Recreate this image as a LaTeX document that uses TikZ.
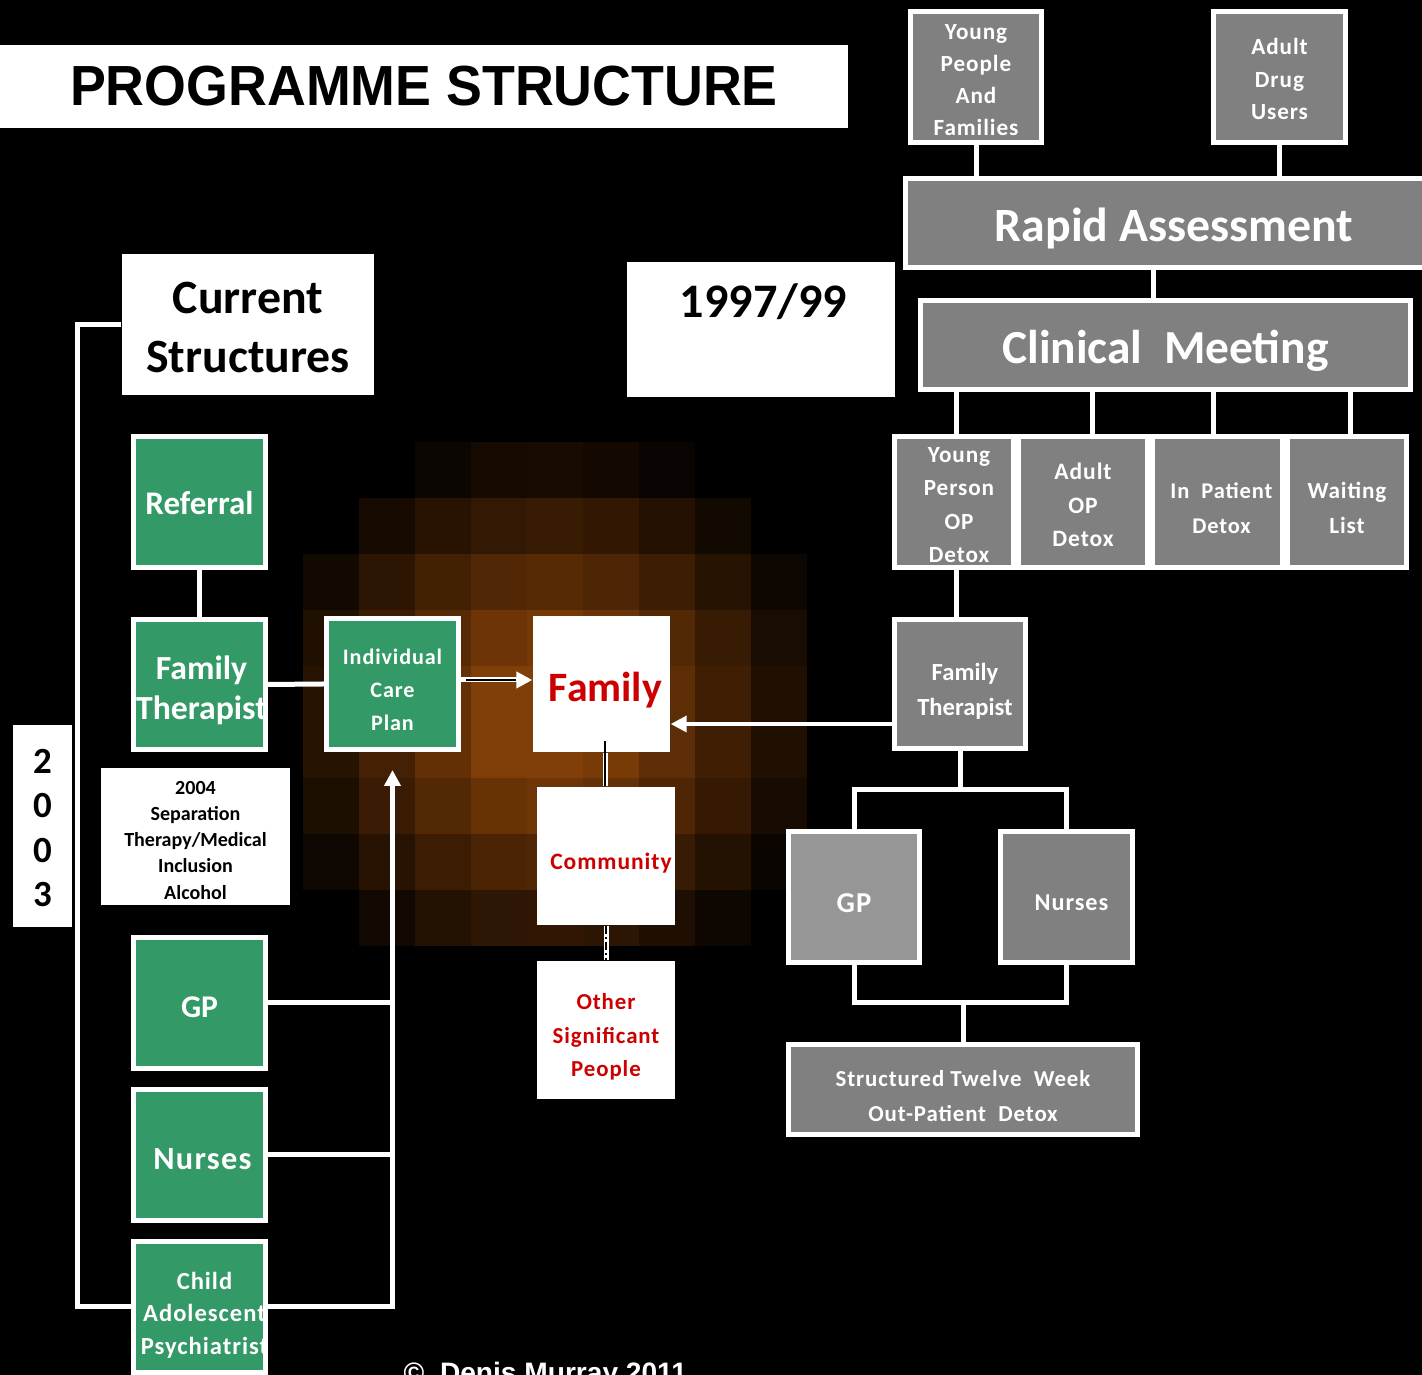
\documentclass[tikz,border=0pt]{standalone}
\usepackage{fontspec}
\setmainfont{Carlito}
\newfontfamily\titlefont[FakeStretch=0.95]{Liberation Sans}
\newfontfamily\arialfont{Liberation Sans}
\newfontfamily\spfont[LetterSpace=4]{Carlito}
\usetikzlibrary{arrows.meta,calc}
\definecolor{pgreen}{RGB}{51,153,102}
\definecolor{pgrey}{RGB}{128,128,128}
\definecolor{pgreyl}{RGB}{150,150,150}
\definecolor{pred}{RGB}{204,0,0}
\definecolor{glow}{RGB}{128,62,8}
\tikzset{
  box/.style={rectangle, draw=white, line width=0.05cm, inner sep=0pt},
  gbox/.style={box, fill=pgreen},
  greybox/.style={box, fill=pgrey},
  wbox/.style={rectangle, fill=white, inner sep=0pt},
  boxsize/.style 2 args={minimum width=#1cm, minimum height=#2cm},
  tl/.style={align=center, inner sep=0pt, text=white, yshift=-0.06cm},
  conn/.style={draw=white, line width=0.05cm},
  tipw/.style={-{Triangle[length=0.16cm,width=0.16cm]}},
  fs/.style 2 args={font=\fontsize{#1}{#2}\selectfont\bfseries},
  sfs/.style 2 args={font=\spfont\fontsize{#1}{#2}\selectfont\bfseries},
}
\begin{document}
\begin{tikzpicture}
\useasboundingbox (0,0) rectangle (14.22,-13.75);
\fill[black] (0,0) rectangle (14.22,-13.75);
% glow
\foreach \i in {0,...,8}{
  \foreach \j in {0,...,8}{
    \pgfmathsetmacro\d{sqrt((\i-3.9)^2+(\j-4.4)^2)}
    \pgfmathtruncatemacro\p{min(100,125*max(0,1-\d/5.2))}
    \fill[glow!\p!black] (3.03+0.56*\i, -4.42-0.56*\j) rectangle ++(0.56,-0.56);
  }
}

% title
\node[wbox, boxsize={8.48}{0.83}, font=\titlefont\bfseries\fontsize{16.1}{18}\selectfont] (title) at (4.24,-0.865) {PROGRAMME STRUCTURE};

% right side (1997/99)
\node[greybox, boxsize={1.31}{1.31}, label={[tl, yshift=0.03cm, sfs={6.6}{9.1}]center:{Young\\People\\And\\Families}}] (ypf) at (9.76,-0.77) {};
\node[greybox, boxsize={1.32}{1.31}, label={[tl, yshift=0.04cm, sfs={6.6}{9.3}]center:{Adult\\Drug\\Users}}] (adu) at (12.795,-0.77) {};
\node[greybox, boxsize={5.37}{0.89}, label={[tl, fs={13.6}{14}]center:{Rapid Assessment}}] (rapid) at (11.74,-2.23) {};
\node[greybox, boxsize={4.90}{0.89}, label={[tl, fs={13.5}{15}]center:{Clinical\ \ Meeting}}] (clinical) at (11.655,-3.45) {};
\node[greybox, boxsize={1.19}{1.31}, label={[tl, yshift=0.03cm, xshift=0.05cm, sfs={6.6}{9.5}]center:{Young\\Person\\OP\\Detox}}] (ypod) at (9.54,-5.02) {};
\node[greybox, boxsize={1.29}{1.31}, label={[tl, yshift=0.03cm, sfs={6.7}{9.6}]center:{Adult\\OP\\Detox}}] (aop) at (10.83,-5.02) {};
\node[greybox, boxsize={1.30}{1.31}, label={[tl, xshift=0.04cm, sfs={6.4}{10}]center:{In\ \ Patient\\Detox}}] (ipd) at (12.175,-5.02) {};
\node[greybox, boxsize={1.19}{1.31}, label={[tl, sfs={6.6}{10}]center:{Waiting\\List}}] (wl) at (13.47,-5.02) {};
\node[greybox, boxsize={1.31}{1.29}, label={[tl, yshift=-0.01cm, xshift=0.05cm, fs={7}{10}]center:{Family\\Therapist}}] (ftR) at (9.60,-6.84) {};
\node[box, fill=pgreyl, boxsize={1.31}{1.31}, label={[tl, sfs={8.2}{10}]center:{GP}}] (gpR) at (8.54,-8.97) {};
\node[greybox, boxsize={1.32}{1.31}, label={[tl, xshift=0.05cm, sfs={6.9}{10}]center:{Nurses}}] (nuR) at (10.665,-8.97) {};
\node[greybox, boxsize={3.49}{0.90}, label={[tl, yshift=-0.01cm, sfs={6.5}{10}]center:{Structured Twelve\ \ Week\\Out-Patient\ \ Detox}}] (stw) at (9.63,-10.895) {};

\node[wbox, boxsize={2.68}{1.35}] (y97) at (7.61,-3.295) {};
\node[fs={13.7}{15}, text=black, inner sep=0pt] (y97t) at ($(y97.north)+(0.025,-0.40)$) {1997/99};

% centre
\node[wbox, boxsize={1.37}{1.36}, label={[tl, xshift=0.04cm, text=pred, fs={11.9}{13}]center:{Family}}] (family) at (6.015,-6.84) {};
\node[wbox, boxsize={1.38}{1.38}, label={[tl, yshift=-0.01cm, xshift=0.05cm, text=pred, sfs={6.7}{9}]center:{Community}}] (comm) at (6.06,-8.56) {};
\node[wbox, boxsize={1.38}{1.38}, label={[tl, yshift=-0.01cm, text=pred, sfs={6.5}{9.5}]center:{Other\\Significant\\People}}] (osp) at (6.06,-10.30) {};
\node[gbox, boxsize={1.32}{1.31}, label={[tl, sfs={6.3}{9.4}]center:{Individual\\Care\\Plan}}] (icp) at (3.925,-6.84) {};

% left side
\node[wbox, boxsize={2.52}{1.41}, label={[tl, yshift=0.03cm, text=black, fs={13.6}{17}]center:{Current\\Structures}}] (cs) at (2.48,-3.245) {};
\node[wbox, boxsize={0.59}{2.02}, label={[tl, yshift=0.04cm, text=black, fs={10.5}{12.6}]center:{2\\0\\0\\3}}] (y2003) at (0.425,-8.26) {};
\node[gbox, boxsize={1.32}{1.31}, label={[tl, yshift=0.05cm, fs={9.4}{11}]center:{Referral}}] (ref) at (1.995,-5.02) {};
\node[gbox, boxsize={1.32}{1.30}, label={[tl, xshift=0.02cm, fs={9.6}{11.4}]center:{Family\\Therapist}}] (ftL) at (1.995,-6.845) {};
\node[wbox, boxsize={1.89}{1.37}, label={[tl, yshift=0.02cm, text=black, fs={5.7}{7.4}]center:{2004\\Separation\\Therapy/Medical\\Inclusion\\Alcohol}}] (note) at (1.955,-8.365) {};
\node[gbox, boxsize={1.32}{1.31}, label={[tl, yshift=0.02cm, fs={9}{11}]center:{GP}}] (gpL) at (1.995,-10.03) {};
\node[gbox, boxsize={1.32}{1.31}, label={[tl, yshift=0.02cm, xshift=0.03cm, sfs={9.2}{11}]center:{Nurses}}] (nuL) at (1.995,-11.55) {};
\node[gbox, boxsize={1.32}{1.31}, label={[tl, yshift=-0.02cm, xshift=0.05cm, sfs={7}{9.3}]center:{Child\\Adolescent\\Psychiatrist}}] (cap) at (1.995,-13.07) {};

\node[anchor=base west, text=white, inner sep=0pt, font=\arialfont\bfseries\fontsize{8}{9}\selectfont] (copy) at (4.03,-13.83) {\textcopyright\ \ Denis Murray 2011};

% connectors right
\draw[conn] (ypf.south) -- (ypf.south |- rapid.north);
\draw[conn] (adu.south) -- (adu.south |- rapid.north);
\draw[conn] ([xshift=-2.1mm]rapid.south) -- ([xshift=-2.1mm]rapid.south |- clinical.north);
\draw[conn] ([xshift=0.2mm]ypod.north |- clinical.south) -- ([xshift=0.2mm]ypod.north);
\draw[conn] ([xshift=0.9mm]aop.north |- clinical.south) -- ([xshift=0.9mm]aop.north);
\draw[conn] ([xshift=-0.4mm]ipd.north |- clinical.south) -- ([xshift=-0.4mm]ipd.north);
\draw[conn] ([xshift=0.3mm]wl.north |- clinical.south) -- ([xshift=0.3mm]wl.north);
\draw[conn] ([xshift=0.2mm]ypod.south) -- ([xshift=0.2mm]ypod.south |- ftR.north);
\draw[conn, line width=0.035cm, tipw] ([yshift=-4mm]ftR.west) -- ([yshift=-4mm]ftR.west -| family.east);
\coordinate (jt) at ($(ftR.south)+(0,-0.39)$);
\draw[conn] (ftR.south) -- (jt);
\draw[conn] (gpR.north) -- (gpR.north |- jt) -- (nuR.north |- jt) -- (nuR.north);
\coordinate (jb) at ($(stw.north)+(0,0.39)$);
\draw[conn] (gpR.south) -- (gpR.south |- jb) -- (nuR.south |- jb) -- (nuR.south);
\draw[conn] (jb) -- (stw.north);

% centre connectors
\draw[conn, tipw] ([yshift=0.4mm]icp.east) -- ([yshift=0.4mm]icp.east -| family.west);
\draw[black, line width=0.02cm, shorten >=0.16cm, shorten <=0.05cm] ([yshift=0.4mm]icp.east) -- ([yshift=0.4mm]icp.east -| family.west);
\draw[conn] ([xshift=-0.1mm]comm.north) -- ([xshift=-0.1mm]comm.north |- family.south);
\draw[black, line width=0.02cm] ([xshift=-0.1mm]comm.north) -- ([xshift=-0.1mm,yshift=1.2mm]comm.north |- family.south);
\draw[conn] (comm.south) -- (osp.north);
\draw[black, line width=0.02cm, dash pattern=on 0.08cm off 0.03cm on 0.02cm off 0.03cm] (comm.south) -- (osp.north);

% left connectors
\draw[conn] (ref.south) -- (ftL.north);
\draw[conn] (ftL.east) -- (icp.west);
\coordinate (bx) at (0.77,0);
\draw[conn] (cs.west) -| (bx |- cap.west) -- (cap.west);
\draw[conn] (gpL.east) -- (gpL.east -| icp.south);
\draw[conn] (nuL.east) -- (nuL.east -| icp.south);
\draw[conn, tipw, shorten >=0.18cm] (cap.east) -| (icp.south);
\end{tikzpicture}
\end{document}
